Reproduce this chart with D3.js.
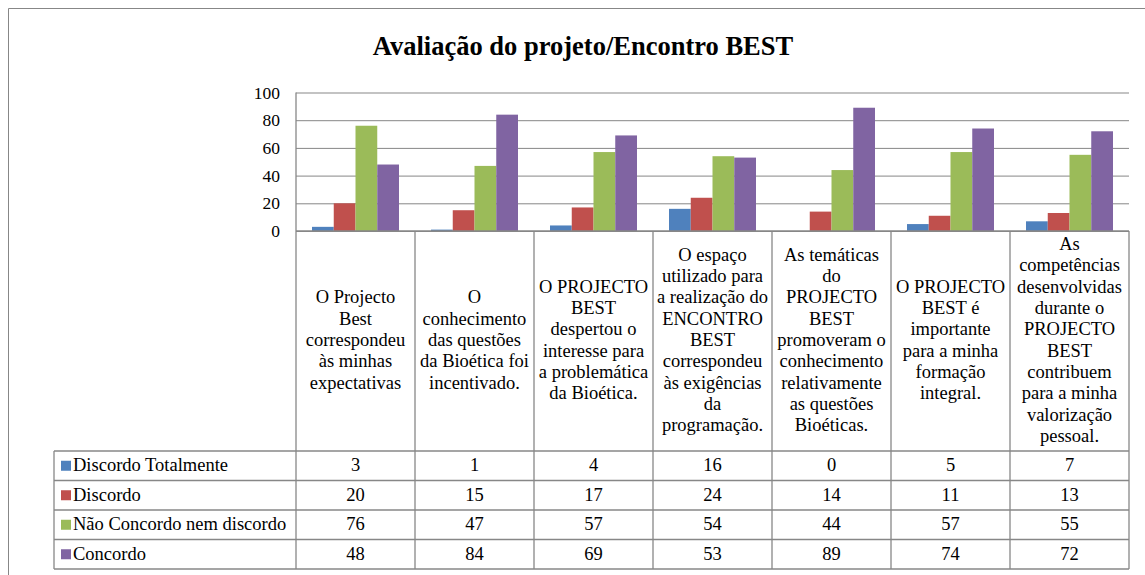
<!DOCTYPE html>
<html>
<head>
<meta charset="utf-8">
<script src="https://cdn.jsdelivr.net/npm/d3@7"></script>
<style>
  body { margin: 0; background: #fff; overflow: hidden; }
  svg { display: block; font-family: "Liberation Serif", "Times New Roman", serif; }
  svg text { font-family: "Liberation Serif", "Times New Roman", serif; }
</style>
</head>
<body>
<svg width="1145" height="575"></svg>
<script>
// chart data
var title = "Avaliação do projeto/Encontro BEST";

var categories = [
  ["O Projecto", "Best", "correspondeu", "às minhas", "expectativas"],
  ["O", "conhecimento", "das questões", "da Bioética foi", "incentivado."],
  ["O PROJECTO", "BEST", "despertou o", "interesse para", "a problemática", "da Bioética."],
  ["O espaço", "utilizado para", "a realização do", "ENCONTRO", "BEST", "correspondeu", "às exigências", "da", "programação."],
  ["As temáticas", "do", "PROJECTO", "BEST", "promoveram o", "conhecimento", "relativamente", "as questões", "Bioéticas."],
  ["O PROJECTO", "BEST é", "importante", "para a minha", "formação", "integral."],
  ["As", "competências", "desenvolvidas", "durante o", "PROJECTO", "BEST", "contribuem", "para a minha", "valorização", "pessoal."]
];

var seriesNames = ["Discordo Totalmente", "Discordo", "Não Concordo nem discordo", "Concordo"];
var seriesColors = ["#4F81BD", "#C0504D", "#9BBB59", "#8064A2"];

var discordoTotalmente = [3, 1, 4, 16, 0, 5, 7];
var discordo = [20, 15, 17, 24, 14, 11, 13];
var naoConcordo = [76, 47, 57, 54, 44, 57, 55];
var concordo = [48, 84, 69, 53, 89, 74, 72];

var yTicks = [0, 20, 40, 60, 80, 100];

var series = [discordoTotalmente, discordo, naoConcordo, concordo];

var svg = d3.select("svg");
var gridColor = "#878787";

// outer chart frame, only top and left edges are in view
svg.append("path")
    .attr("d", "M8.5,575V8.5H1145")
    .attr("fill", "none").attr("stroke", gridColor);

svg.append("text")
    .attr("x", 583).attr("y", 55)
    .attr("text-anchor", "middle")
    .style("font-size", "26.5px").style("font-weight", "bold")
    .text(title);

var plotLeft = 296, plotRight = 1129, plotTop = 92.5, plotBottom = 231;
var headBottom = 451, rowH = 29.5, tableLeft = 54;

var x = d3.scaleBand()
    .domain(d3.range(categories.length))
    .range([plotLeft, plotRight]);

var xs = d3.scaleBand()
    .domain(d3.range(series.length))
    .range([16, x.bandwidth() - 16]);

var y = d3.scaleLinear().domain([0, 100]).range([plotBottom, plotTop]);

// gridlines
var grid = svg.append("g")
    .attr("transform", "translate(" + plotLeft + ",0)")
    .call(d3.axisLeft(y).tickValues(yTicks).tickSize(-(plotRight - plotLeft)).tickFormat(""));
grid.select(".domain").remove();
grid.selectAll("line").attr("stroke", gridColor);

// y labels
var yAxis = svg.append("g")
    .attr("transform", "translate(" + (plotLeft - 16) + ",0)")
    .call(d3.axisLeft(y).tickValues(yTicks).tickSize(0).tickPadding(0));
yAxis.select(".domain").remove();
yAxis.selectAll("text")
    .style("font-family", "'Liberation Serif', 'Times New Roman', serif")
    .style("font-size", "17.5px")
    .attr("fill", "#000");

// bars
series.forEach(function (vals, si) {
  svg.append("g").selectAll("rect")
    .data(vals)
    .enter().append("rect")
      .attr("x", function (d, i) { return x(i) + xs(si); })
      .attr("width", xs.bandwidth())
      .attr("y", function (d) { return y(d); })
      .attr("height", function (d) { return y(0) - y(d); })
      .attr("fill", seriesColors[si]);
});

// data table lines
var lines = svg.append("g").attr("stroke", gridColor).attr("stroke-width", 1.3);
var tableBottom = headBottom + rowH * series.length;
lines.append("line").attr("x1", plotLeft).attr("x2", plotLeft).attr("y1", plotTop).attr("y2", tableBottom);
d3.range(1, categories.length + 1).forEach(function (i) {
  var xx = i < categories.length ? x(i) : plotRight;
  lines.append("line").attr("x1", xx).attr("x2", xx).attr("y1", plotBottom).attr("y2", tableBottom);
});
lines.append("line").attr("x1", plotLeft).attr("x2", plotRight).attr("y1", plotBottom).attr("y2", plotBottom);
lines.append("line").attr("x1", tableLeft).attr("x2", tableLeft).attr("y1", headBottom).attr("y2", tableBottom);
d3.range(series.length + 1).forEach(function (r) {
  var yy = headBottom + r * rowH;
  lines.append("line").attr("x1", tableLeft).attr("x2", plotRight).attr("y1", yy).attr("y2", yy);
});

// category headers
var lh = 21.3;
categories.forEach(function (lab, i) {
  var cy = (plotBottom + headBottom) / 2 + 5 - (lab.length - 1) * lh / 2;
  var t = svg.append("text")
      .attr("text-anchor", "middle")
      .style("font-size", "18.5px");
  lab.forEach(function (ln, k) {
    t.append("tspan")
      .attr("x", x(i) + x.bandwidth() / 2)
      .attr("y", cy + k * lh)
      .text(ln);
  });
});

// legend rows and values
series.forEach(function (vals, si) {
  var rowMid = headBottom + si * rowH + rowH / 2;
  svg.append("rect")
      .attr("x", 61).attr("y", rowMid - 5)
      .attr("width", 10).attr("height", 10)
      .attr("fill", seriesColors[si]);
  svg.append("text")
      .attr("x", 73).attr("y", rowMid + 5.5)
      .style("font-size", "18.5px")
      .text(seriesNames[si]);
  vals.forEach(function (v, i) {
    svg.append("text")
      .attr("x", x(i) + x.bandwidth() / 2)
      .attr("y", rowMid + 5.5)
      .attr("text-anchor", "middle")
      .style("font-size", "18.5px")
      .text(v);
  });
});
</script>
</body>
</html>
